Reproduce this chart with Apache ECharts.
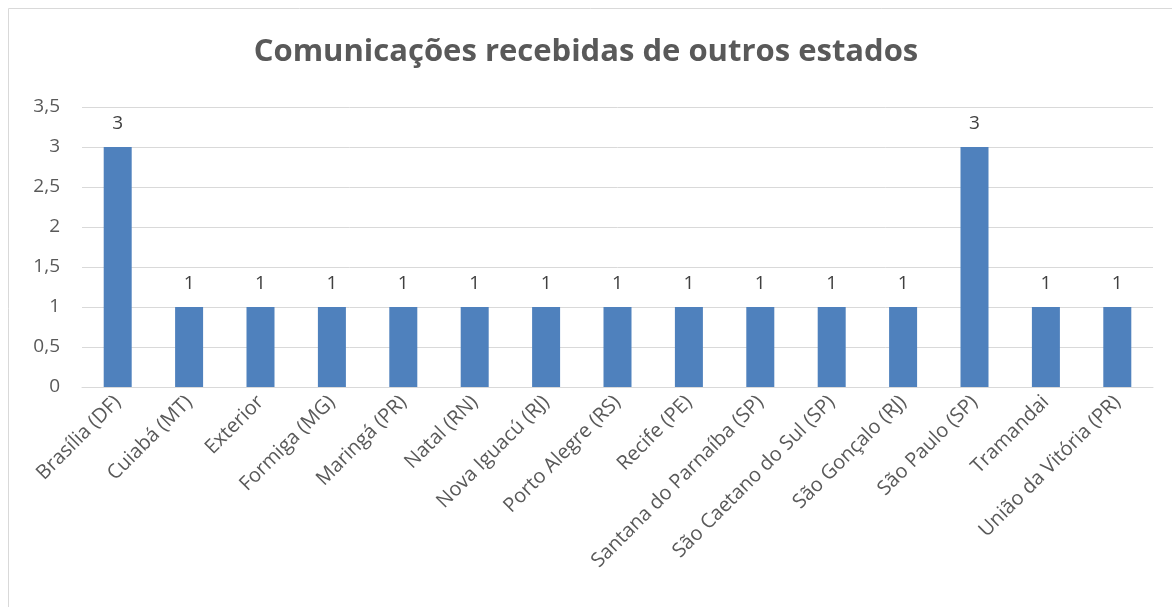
<!DOCTYPE html>
<html>
<head>
<meta charset="utf-8">
<script src="https://cdn.jsdelivr.net/npm/echarts@6/dist/echarts.min.js"></script>
<style>
    html, body {margin: 0; padding: 0; background: #fff;}
    #chart {width: 1172px; height: 607px;}
</style>
</head>
<body>
<div id="chart"></div>
<script>
// dados do gráfico
var categorias = ["Brasília (DF)", "Cuiabá (MT)", "Exterior", "Formiga (MG)", "Maringá (PR)", "Natal (RN)",
    "Nova Iguacú (RJ)", "Porto Alegre (RS)", "Recife (PE)", "Santana do Parnaíba (SP)",
    "São Caetano do Sul (SP)", "São Gonçalo (RJ)", "São Paulo (SP)", "Tramandai", "União da Vitória (PR)"];
var valores = [3, 1, 1, 1, 1, 1, 1, 1, 1, 1, 1, 1, 3, 1, 1];
var titulo = "Comunicações recebidas de outros estados";

var fonte = "'Open Sans', 'Noto Sans', sans-serif";
var myChart = echarts.init(document.getElementById("chart"));
myChart.setOption({
    animation: false,
    //moldura do gráfico
    graphic: [{
        type: "rect",
        shape: {x: 8.5, y: 8.5, width: 1300, height: 800},
        style: {fill: "none", stroke: "#d9d9d9", lineWidth: 1},
        silent: true
    }],
    title: {
        text: titulo,
        left: "center",
        top: 32,
        textStyle: {fontFamily: fonte, fontSize: 31, fontWeight: "bold", color: "#595959"}
    },
    grid: {left: 82, right: 19, top: 107, bottom: 220},
    xAxis: {
        type: "category",
        data: categorias,
        axisLine: {lineStyle: {color: "#d9d9d9"}},
        axisTick: {show: false},
        axisLabel: {
            interval: 0,
            rotate: 45,
            margin: 12,
            fontFamily: fonte,
            fontSize: 20,
            color: "#595959"
        }
    },
    yAxis: {
        type: "value",
        min: 0,
        max: 3.5,
        interval: 0.5,
        axisLine: {show: false},
        axisTick: {show: false},
        splitLine: {lineStyle: {color: "#d9d9d9"}},
        axisLabel: {
            margin: 22,
            fontFamily: fonte,
            fontSize: 19,
            color: "#595959",
            formatter: function (v) {
                return String(v).replace(".", ",");
            }
        }
    },
    series: [{
        type: "bar",
        data: valores,
        barWidth: 28,
        itemStyle: {color: "#4f81bd"},
        label: {
            show: true,
            position: "top",
            distance: 14,
            fontFamily: fonte,
            fontSize: 19,
            color: "#404040"
        }
    }]
});
</script>
</body>
</html>
